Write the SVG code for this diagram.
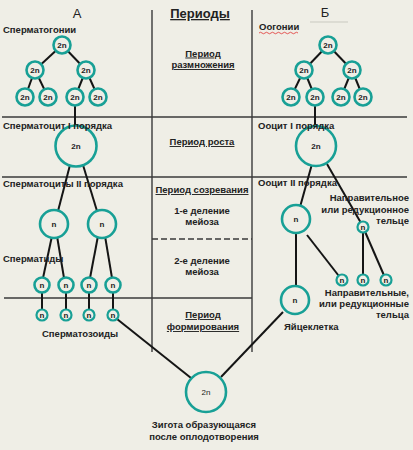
<svg xmlns="http://www.w3.org/2000/svg" width="413" height="450" viewBox="0 0 413 450">
<style>
.bg{fill:#efeee6}
.frame{stroke:#3a3a3a;stroke-width:1.4;fill:none}
.dash{stroke:#3a3a3a;stroke-width:1.4;stroke-dasharray:6 3;fill:none}
.con line{stroke:#151515;stroke-width:2}
.cell{fill:#efeee6;stroke:#18a096;stroke-width:2.6}
.small{fill:#efeee6;stroke:#18a096;stroke-width:2.2}
.t{font-family:"Liberation Sans",Arial,sans-serif;font-weight:bold;font-size:9.5px;fill:#222}
.c{text-anchor:middle}
.r{text-anchor:end}
.u{text-decoration:underline}
.in{font-family:"Liberation Sans",Arial,sans-serif;font-weight:bold;font-size:8px;fill:#222;text-anchor:middle}
.big{font-family:"Liberation Sans",Arial,sans-serif;font-size:13px;fill:#222}
</style>
<rect class="bg" x="0" y="0" width="413" height="450"/>

<g id="frame">
<line class="frame" x1="152" y1="10" x2="152" y2="352"/>
<line class="frame" x1="252" y1="10" x2="252" y2="352"/>
<line class="frame" x1="2" y1="117" x2="407" y2="117"/>
<line class="frame" x1="2" y1="177" x2="407" y2="177"/>
<line class="frame" x1="4" y1="298" x2="252" y2="298"/>
<line class="dash" x1="152" y1="239" x2="252" y2="239"/>
<line x1="310" y1="22" x2="348" y2="22" stroke="#c9c9c0" stroke-width="1"/>
</g>

<g id="headers">
<text class="big" x="77" y="18" text-anchor="middle">А</text>
<text class="big" x="325" y="17" text-anchor="middle">Б</text>
<text class="t c u" x="200" y="18" style="font-size:13px">Периоды</text>
</g>

<g id="periods">
<text class="t c u" x="203" y="56.5">Период</text>
<text class="t c u" x="203" y="68">размножения</text>
<text class="t c u" x="202" y="145">Период роста</text>
<text class="t c u" x="202" y="193">Период созревания</text>
<text class="t c" x="202" y="213.5">1-е деление</text>
<text class="t c" x="202" y="225">мейоза</text>
<text class="t c" x="202" y="263.5">2-е деление</text>
<text class="t c" x="202" y="275">мейоза</text>
<text class="t c u" x="203" y="318">Период</text>
<text class="t c u" x="203" y="330">формирования</text>
</g>

<g id="connectors" class="con">
<line x1="62" y1="45" x2="35" y2="70"/>
<line x1="62" y1="45" x2="86" y2="70"/>
<line x1="35" y1="70" x2="25" y2="97"/>
<line x1="35" y1="70" x2="48" y2="97"/>
<line x1="86" y1="70" x2="75" y2="97"/>
<line x1="86" y1="70" x2="98" y2="97"/>
<line x1="75" y1="97" x2="75" y2="127"/>
<line x1="70" y1="165" x2="58" y2="211"/>
<line x1="83" y1="165" x2="97" y2="211"/>
<line x1="52" y1="236" x2="43" y2="278"/>
<line x1="57" y1="236" x2="64" y2="278"/>
<line x1="98" y1="236" x2="90" y2="278"/>
<line x1="105" y1="236" x2="112" y2="278"/>
<line x1="42" y1="285" x2="42" y2="315"/>
<line x1="66" y1="285" x2="66" y2="315"/>
<line x1="89" y1="285" x2="89" y2="315"/>
<line x1="113" y1="285" x2="113" y2="315"/>
<line x1="117" y1="319" x2="191" y2="378"/>
<line x1="283" y1="312" x2="221" y2="377"/>
<line x1="328" y1="45" x2="304" y2="70"/>
<line x1="328" y1="45" x2="352" y2="70"/>
<line x1="304" y1="70" x2="291" y2="97"/>
<line x1="304" y1="70" x2="315" y2="97"/>
<line x1="352" y1="70" x2="341" y2="97"/>
<line x1="352" y1="70" x2="363" y2="97"/>
<line x1="315" y1="97" x2="315" y2="127"/>
<line x1="312" y1="164" x2="300" y2="207"/>
<line x1="327" y1="164" x2="361" y2="223"/>
<line x1="296" y1="219" x2="296" y2="300"/>
<line x1="307" y1="235" x2="342" y2="280"/>
<line x1="363" y1="227" x2="363" y2="280"/>
<line x1="363" y1="227" x2="386" y2="280"/>
</g>

<g id="spermatogonia">
<circle class="cell" cx="62" cy="45" r="8.5"/><text class="in" x="62" y="48">2n</text>
<circle class="cell" cx="35" cy="70" r="8.5"/><text class="in" x="35" y="73">2n</text>
<circle class="cell" cx="86" cy="70" r="8.5"/><text class="in" x="86" y="73">2n</text>
<circle class="cell" cx="25" cy="97" r="8.5"/><text class="in" x="25" y="100">2n</text>
<circle class="cell" cx="48" cy="97" r="8.5"/><text class="in" x="48" y="100">2n</text>
<circle class="cell" cx="75" cy="97" r="8.5"/><text class="in" x="75" y="100">2n</text>
<circle class="cell" cx="98" cy="97" r="8.5"/><text class="in" x="98" y="100">2n</text>
<text class="t" x="3" y="33">Сперматогонии</text>
</g>

<g id="spermatocyte1">
<circle class="cell" cx="76" cy="146" r="20.5"/><text class="in" x="76" y="149">2n</text>
<text class="t" x="3" y="129">Сперматоцит I порядка</text>
</g>

<g id="spermatocytes2">
<circle class="cell" cx="54" cy="224" r="14"/><text class="in" x="54" y="227">n</text>
<circle class="cell" cx="102" cy="224" r="14"/><text class="in" x="102" y="227">n</text>
<text class="t" x="3" y="187">Сперматоциты II порядка</text>
</g>

<g id="spermatids">
<circle class="cell" cx="42" cy="285" r="7.5"/><text class="in" x="42" y="288">n</text>
<circle class="cell" cx="66" cy="285" r="7.5"/><text class="in" x="66" y="288">n</text>
<circle class="cell" cx="89" cy="285" r="7.5"/><text class="in" x="89" y="288">n</text>
<circle class="cell" cx="113" cy="285" r="7.5"/><text class="in" x="113" y="288">n</text>
<text class="t" x="3" y="262">Сперматиды</text>
</g>

<g id="spermatozoa">
<circle class="small" cx="42" cy="315" r="5.5"/><text class="in" x="42" y="318">n</text>
<circle class="small" cx="66" cy="315" r="5.5"/><text class="in" x="66" y="318">n</text>
<circle class="small" cx="89" cy="315" r="5.5"/><text class="in" x="89" y="318">n</text>
<circle class="small" cx="113" cy="315" r="5.5"/><text class="in" x="113" y="318">n</text>
<text class="t" x="42" y="337">Сперматозоиды</text>
</g>

<g id="oogonia">
<circle class="cell" cx="328" cy="45" r="8.5"/><text class="in" x="328" y="48">2n</text>
<circle class="cell" cx="304" cy="70" r="8.5"/><text class="in" x="304" y="73">2n</text>
<circle class="cell" cx="352" cy="70" r="8.5"/><text class="in" x="352" y="73">2n</text>
<circle class="cell" cx="291" cy="97" r="8.5"/><text class="in" x="291" y="100">2n</text>
<circle class="cell" cx="315" cy="97" r="8.5"/><text class="in" x="315" y="100">2n</text>
<circle class="cell" cx="341" cy="97" r="8.5"/><text class="in" x="341" y="100">2n</text>
<circle class="cell" cx="363" cy="97" r="8.5"/><text class="in" x="363" y="100">2n</text>
<text class="t" x="259" y="30">Оогонии</text>
<path d="M259 33 q1.5 -1.5 3 0 t3 0 t3 0 t3 0 t3 0 t3 0 t3 0 t3 0 t3 0 t3 0 t3 0 t3 0 t3 0" fill="none" stroke="#e03030" stroke-width="0.8"/>
</g>

<g id="oocyte1">
<circle class="cell" cx="316" cy="146" r="20"/><text class="in" x="316" y="149">2n</text>
<text class="t" x="258" y="129">Ооцит I порядка</text>
</g>

<g id="oocyte2">
<circle class="cell" cx="296" cy="219" r="14"/><text class="in" x="296" y="222">n</text>
<text class="t" x="258" y="186">Ооцит II порядка</text>
</g>

<g id="polarbody1">
<circle class="small" cx="363" cy="227" r="5.5"/><text class="in" x="363" y="230">n</text>
<text class="t r" x="409" y="201">Направительное</text>
<text class="t r" x="409" y="212.5">или редукционное</text>
<text class="t r" x="409" y="224">тельце</text>
</g>

<g id="polarbodies2">
<circle class="small" cx="342" cy="280" r="5.5"/><text class="in" x="342" y="283">n</text>
<circle class="small" cx="363" cy="280" r="5.5"/><text class="in" x="363" y="283">n</text>
<circle class="small" cx="386" cy="280" r="5.5"/><text class="in" x="386" y="283">n</text>
<text class="t r" x="409" y="296">Направительные,</text>
<text class="t r" x="409" y="307">или редукционные</text>
<text class="t r" x="409" y="318">тельца</text>
</g>

<g id="egg">
<circle class="cell" cx="295" cy="300" r="14"/><text class="in" x="295" y="303">n</text>
<text class="t" x="284" y="330">Яйцеклетка</text>
</g>

<g id="zygote">
<circle class="cell" cx="206" cy="392" r="20"/><text class="in" x="206" y="395" style="font-weight:normal">2n</text>
<text class="t c" x="204" y="428">Зигота образующаяся</text>
<text class="t c" x="204" y="440">после оплодотворения</text>
</g>
</svg>
